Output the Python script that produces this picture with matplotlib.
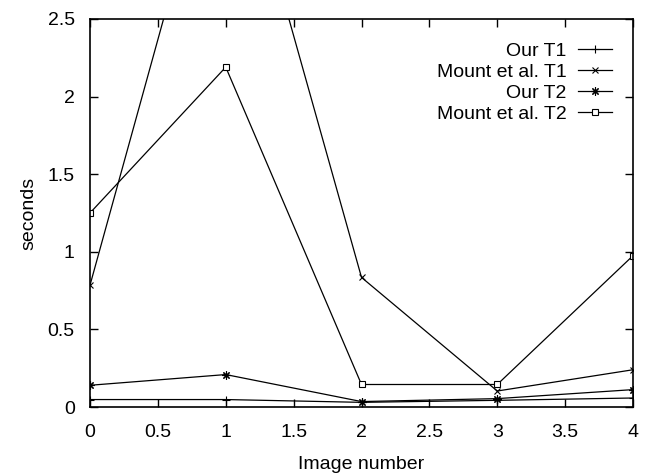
import matplotlib
matplotlib.use("Agg")
import matplotlib.pyplot as plt

plt.rcParams['font.family'] = ['Liberation Sans', 'DejaVu Sans']

image_number = [0, 1, 2, 3, 4]
our_t1 = [0.048, 0.048, 0.03, 0.043, 0.058]
mount_t1 = [0.785, 3.95, 0.835, 0.103, 0.24]
our_t2 = [0.14, 0.209, 0.035, 0.054, 0.112]
mount_t2 = [1.25, 2.19, 0.145, 0.145, 0.975]

labels = ["Our T1", "Mount et al. T1", "Our T2", "Mount et al. T2"]
xticks = [0, 0.5, 1, 1.5, 2, 2.5, 3, 3.5, 4]
yticks = [0, 0.5, 1, 1.5, 2, 2.5]

fig = plt.figure(figsize=(6.53, 4.74), dpi=100)
ax = fig.add_axes([90/653, 1-407/474, (633-90)/653, (407-19)/474])

lw = 0.9
ax.plot(image_number, our_t1, color='black', lw=lw, marker='+', ms=6, mew=0.8, label=labels[0])
ax.plot(image_number, mount_t1, color='black', lw=lw, marker='x', ms=5, mew=0.8, label=labels[1])
ax.plot(image_number, our_t2, color='black', lw=lw, marker=(8, 2, 0), ms=6, mew=0.8, label=labels[2])
ax.plot(image_number, mount_t2, color='black', lw=lw, marker='s', ms=5, mew=0.8, mfc='white', label=labels[3])

ax.set_xlim(0, 4)
ax.set_ylim(0, 2.5)
ax.set_xticks(xticks)
ax.set_xticklabels([f"{t:g}" for t in xticks])
ax.set_yticks(yticks)
ax.set_yticklabels([f"{t:g}" for t in yticks])
ax.tick_params(direction='in', top=True, right=True, length=6, width=1, labelsize=14)
ax.tick_params(axis='x', pad=12)
ax.tick_params(axis='y', pad=11)
for s in ax.spines.values():
    s.set_linewidth(1.2)

ax.set_xlabel("Image number", fontsize=14, labelpad=11)
ax.set_ylabel("seconds", fontsize=14, labelpad=7)

leg = ax.legend(loc='upper right', frameon=False, markerfirst=False, fontsize=14,
                handlelength=1.75, handletextpad=0.6, labelspacing=0.18,
                bbox_to_anchor=(0.983, 0.97), borderaxespad=0.2)
for t in leg.get_texts():
    t.set_ha('right')
leg._legend_box.align = "right"

fig.savefig("out.png", dpi=100)
